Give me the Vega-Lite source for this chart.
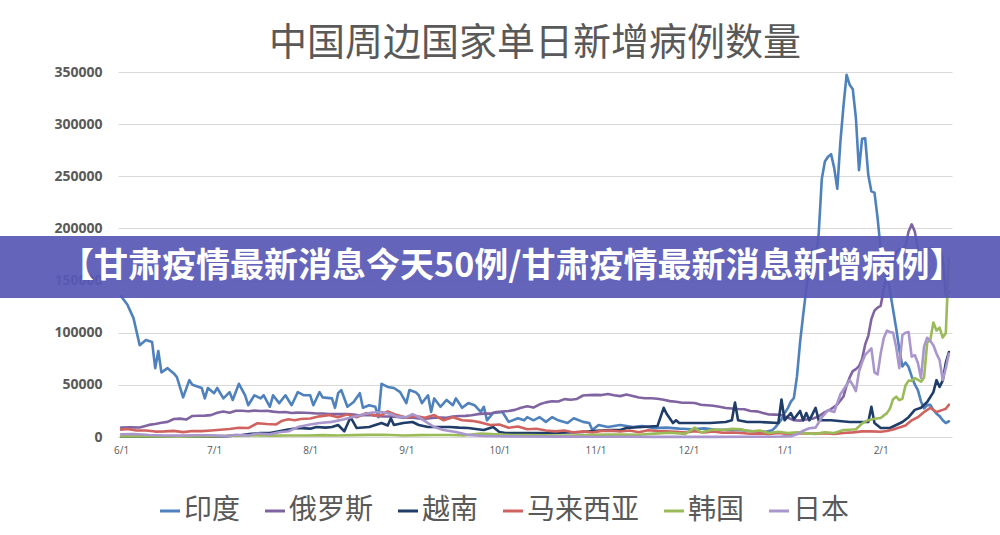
{
  "$schema": "https://vega.github.io/schema/vega-lite/v6.json",
  "width": 834,
  "height": 365,
  "autosize": "none",
  "padding": {"left": 118, "top": 72, "right": 48, "bottom": 98},
  "background": "white",
  "title": {"text": "中国周边国家单日新增病例数量", "fontSize": 38, "font": "Noto Sans CJK SC", "fontWeight": "normal", "color": "#595959", "anchor": "middle", "offset": 2},
  "config": {"view": {"stroke": null}, "font": "Noto Sans CJK SC"},
  "datasets": {
    "banner": [{"x1": "2021-04-10", "x2": "2022-03-25", "y1": 133300, "y2": 192700, "xm": "2021-10-05", "ym": 163000, "t": "【甘肃疫情最新消息今天50例/甘肃疫情最新消息新增病例】"}],
    "cases": [
{"c":"印度","d":"2021-06-01","v":135000},{"c":"印度","d":"2021-06-03","v":127000},{"c":"印度","d":"2021-06-05","v":114000},{"c":"印度","d":"2021-06-07","v":88000},{"c":"印度","d":"2021-06-09","v":93000},{"c":"印度","d":"2021-06-11","v":91000},{"c":"印度","d":"2021-06-12","v":66000},{"c":"印度","d":"2021-06-13","v":82500},{"c":"印度","d":"2021-06-14","v":62000},{"c":"印度","d":"2021-06-16","v":66000},{"c":"印度","d":"2021-06-18","v":61000},{"c":"印度","d":"2021-06-19","v":57500},{"c":"印度","d":"2021-06-21","v":38000},{"c":"印度","d":"2021-06-23","v":54500},{"c":"印度","d":"2021-06-24","v":50000},{"c":"印度","d":"2021-06-27","v":47000},{"c":"印度","d":"2021-06-28","v":37000},{"c":"印度","d":"2021-06-29","v":47000},{"c":"印度","d":"2021-07-01","v":42000},{"c":"印度","d":"2021-07-02","v":47000},{"c":"印度","d":"2021-07-04","v":37000},{"c":"印度","d":"2021-07-06","v":43000},{"c":"印度","d":"2021-07-07","v":35500},{"c":"印度","d":"2021-07-09","v":51000},{"c":"印度","d":"2021-07-11","v":40000},{"c":"印度","d":"2021-07-12","v":30500},{"c":"印度","d":"2021-07-14","v":40000},{"c":"印度","d":"2021-07-16","v":37000},{"c":"印度","d":"2021-07-17","v":40000},{"c":"印度","d":"2021-07-19","v":29000},{"c":"印度","d":"2021-07-20","v":40000},{"c":"印度","d":"2021-07-22","v":32500},{"c":"印度","d":"2021-07-24","v":40000},{"c":"印度","d":"2021-07-26","v":30500},{"c":"印度","d":"2021-07-28","v":43000},{"c":"印度","d":"2021-07-30","v":40000},{"c":"印度","d":"2021-08-01","v":40000},{"c":"印度","d":"2021-08-02","v":30500},{"c":"印度","d":"2021-08-04","v":43000},{"c":"印度","d":"2021-08-05","v":38000},{"c":"印度","d":"2021-08-08","v":37000},{"c":"印度","d":"2021-08-09","v":28000},{"c":"印度","d":"2021-08-10","v":42000},{"c":"印度","d":"2021-08-11","v":45000},{"c":"印度","d":"2021-08-13","v":29000},{"c":"印度","d":"2021-08-15","v":33500},{"c":"印度","d":"2021-08-17","v":42000},{"c":"印度","d":"2021-08-18","v":28000},{"c":"印度","d":"2021-08-20","v":30500},{"c":"印度","d":"2021-08-22","v":29000},{"c":"印度","d":"2021-08-23","v":19000},{"c":"印度","d":"2021-08-24","v":51000},{"c":"印度","d":"2021-08-26","v":48000},{"c":"印度","d":"2021-08-28","v":47000},{"c":"印度","d":"2021-08-30","v":43000},{"c":"印度","d":"2021-09-01","v":32500},{"c":"印度","d":"2021-09-02","v":45000},{"c":"印度","d":"2021-09-04","v":43000},{"c":"印度","d":"2021-09-05","v":40000},{"c":"印度","d":"2021-09-06","v":32500},{"c":"印度","d":"2021-09-08","v":40000},{"c":"印度","d":"2021-09-09","v":24000},{"c":"印度","d":"2021-09-10","v":37000},{"c":"印度","d":"2021-09-12","v":29000},{"c":"印度","d":"2021-09-14","v":35500},{"c":"印度","d":"2021-09-16","v":30500},{"c":"印度","d":"2021-09-17","v":37000},{"c":"印度","d":"2021-09-19","v":28000},{"c":"印度","d":"2021-09-21","v":32500},{"c":"印度","d":"2021-09-23","v":30500},{"c":"印度","d":"2021-09-25","v":24000},{"c":"印度","d":"2021-09-26","v":29000},{"c":"印度","d":"2021-09-27","v":16000},{"c":"印度","d":"2021-09-29","v":23000},{"c":"印度","d":"2021-10-02","v":24000},{"c":"印度","d":"2021-10-04","v":14500},{"c":"印度","d":"2021-10-07","v":18000},{"c":"印度","d":"2021-10-09","v":16000},{"c":"印度","d":"2021-10-10","v":19000},{"c":"印度","d":"2021-10-12","v":16000},{"c":"印度","d":"2021-10-14","v":19000},{"c":"印度","d":"2021-10-16","v":14500},{"c":"印度","d":"2021-10-18","v":19000},{"c":"印度","d":"2021-10-20","v":16000},{"c":"印度","d":"2021-10-23","v":13500},{"c":"印度","d":"2021-10-25","v":18000},{"c":"印度","d":"2021-10-28","v":14500},{"c":"印度","d":"2021-10-30","v":13500},{"c":"印度","d":"2021-10-31","v":6700},{"c":"印度","d":"2021-11-02","v":11500},{"c":"印度","d":"2021-11-05","v":9600},{"c":"印度","d":"2021-11-09","v":11500},{"c":"印度","d":"2021-11-13","v":9600},{"c":"印度","d":"2021-11-16","v":10500},{"c":"印度","d":"2021-11-20","v":8500},{"c":"印度","d":"2021-11-24","v":9000},{"c":"印度","d":"2021-11-28","v":8000},{"c":"印度","d":"2021-12-02","v":7500},{"c":"印度","d":"2021-12-06","v":8300},{"c":"印度","d":"2021-12-10","v":7000},{"c":"印度","d":"2021-12-14","v":6800},{"c":"印度","d":"2021-12-18","v":6500},{"c":"印度","d":"2021-12-22","v":5500},{"c":"印度","d":"2021-12-26","v":5000},{"c":"印度","d":"2021-12-28","v":6500},{"c":"印度","d":"2021-12-29","v":9200},{"c":"印度","d":"2021-12-30","v":13000},{"c":"印度","d":"2021-12-31","v":16800},{"c":"印度","d":"2022-01-01","v":22800},{"c":"印度","d":"2022-01-02","v":27500},{"c":"印度","d":"2022-01-03","v":33700},{"c":"印度","d":"2022-01-04","v":37400},{"c":"印度","d":"2022-01-05","v":58100},{"c":"印度","d":"2022-01-06","v":90900},{"c":"印度","d":"2022-01-07","v":117100},{"c":"印度","d":"2022-01-08","v":142000},{"c":"印度","d":"2022-01-09","v":159600},{"c":"印度","d":"2022-01-10","v":179700},{"c":"印度","d":"2022-01-11","v":168100},{"c":"印度","d":"2022-01-12","v":194700},{"c":"印度","d":"2022-01-13","v":247400},{"c":"印度","d":"2022-01-14","v":264200},{"c":"印度","d":"2022-01-15","v":268800},{"c":"印度","d":"2022-01-16","v":271200},{"c":"印度","d":"2022-01-17","v":258100},{"c":"印度","d":"2022-01-18","v":238000},{"c":"印度","d":"2022-01-19","v":283000},{"c":"印度","d":"2022-01-20","v":317500},{"c":"印度","d":"2022-01-21","v":347300},{"c":"印度","d":"2022-01-22","v":337700},{"c":"印度","d":"2022-01-23","v":333500},{"c":"印度","d":"2022-01-24","v":306100},{"c":"印度","d":"2022-01-25","v":255900},{"c":"印度","d":"2022-01-26","v":285900},{"c":"印度","d":"2022-01-27","v":286400},{"c":"印度","d":"2022-01-28","v":251200},{"c":"印度","d":"2022-01-29","v":235500},{"c":"印度","d":"2022-01-30","v":234300},{"c":"印度","d":"2022-01-31","v":209900},{"c":"印度","d":"2022-02-01","v":180000},{"c":"印度","d":"2022-02-02","v":163000},{"c":"印度","d":"2022-02-03","v":156000},{"c":"印度","d":"2022-02-04","v":140000},{"c":"印度","d":"2022-02-05","v":122000},{"c":"印度","d":"2022-02-06","v":104000},{"c":"印度","d":"2022-02-07","v":84000},{"c":"印度","d":"2022-02-08","v":67600},{"c":"印度","d":"2022-02-09","v":71400},{"c":"印度","d":"2022-02-10","v":67100},{"c":"印度","d":"2022-02-11","v":58100},{"c":"印度","d":"2022-02-12","v":50400},{"c":"印度","d":"2022-02-13","v":44900},{"c":"印度","d":"2022-02-14","v":34100},{"c":"印度","d":"2022-02-15","v":27400},{"c":"印度","d":"2022-02-16","v":30600},{"c":"印度","d":"2022-02-17","v":30800},{"c":"印度","d":"2022-02-18","v":25900},{"c":"印度","d":"2022-02-19","v":22300},{"c":"印度","d":"2022-02-20","v":20000},{"c":"印度","d":"2022-02-21","v":16100},{"c":"印度","d":"2022-02-22","v":13400},{"c":"印度","d":"2022-02-23","v":15100},
{"c":"俄罗斯","d":"2021-06-01","v":9000},{"c":"俄罗斯","d":"2021-06-04","v":9300},{"c":"俄罗斯","d":"2021-06-07","v":9100},{"c":"俄罗斯","d":"2021-06-10","v":11600},{"c":"俄罗斯","d":"2021-06-12","v":12500},{"c":"俄罗斯","d":"2021-06-14","v":13700},{"c":"俄罗斯","d":"2021-06-16","v":14500},{"c":"俄罗斯","d":"2021-06-18","v":17300},{"c":"俄罗斯","d":"2021-06-20","v":17600},{"c":"俄罗斯","d":"2021-06-22","v":16700},{"c":"俄罗斯","d":"2021-06-24","v":20200},{"c":"俄罗斯","d":"2021-06-26","v":20400},{"c":"俄罗斯","d":"2021-06-28","v":20500},{"c":"俄罗斯","d":"2021-06-30","v":21000},{"c":"俄罗斯","d":"2021-07-02","v":23200},{"c":"俄罗斯","d":"2021-07-04","v":24400},{"c":"俄罗斯","d":"2021-07-06","v":23300},{"c":"俄罗斯","d":"2021-07-08","v":25100},{"c":"俄罗斯","d":"2021-07-10","v":25100},{"c":"俄罗斯","d":"2021-07-12","v":24700},{"c":"俄罗斯","d":"2021-07-14","v":25300},{"c":"俄罗斯","d":"2021-07-16","v":25000},{"c":"俄罗斯","d":"2021-07-18","v":25100},{"c":"俄罗斯","d":"2021-07-20","v":24300},{"c":"俄罗斯","d":"2021-07-22","v":23800},{"c":"俄罗斯","d":"2021-07-24","v":24000},{"c":"俄罗斯","d":"2021-07-26","v":23000},{"c":"俄罗斯","d":"2021-07-28","v":23400},{"c":"俄罗斯","d":"2021-07-30","v":23300},{"c":"俄罗斯","d":"2021-08-01","v":23000},{"c":"俄罗斯","d":"2021-08-03","v":22500},{"c":"俄罗斯","d":"2021-08-05","v":22600},{"c":"俄罗斯","d":"2021-08-07","v":22100},{"c":"俄罗斯","d":"2021-08-09","v":21900},{"c":"俄罗斯","d":"2021-08-11","v":21900},{"c":"俄罗斯","d":"2021-08-13","v":21900},{"c":"俄罗斯","d":"2021-08-15","v":21600},{"c":"俄罗斯","d":"2021-08-17","v":20700},{"c":"俄罗斯","d":"2021-08-19","v":21100},{"c":"俄罗斯","d":"2021-08-21","v":21000},{"c":"俄罗斯","d":"2021-08-23","v":19900},{"c":"俄罗斯","d":"2021-08-25","v":19600},{"c":"俄罗斯","d":"2021-08-27","v":19700},{"c":"俄罗斯","d":"2021-08-29","v":19200},{"c":"俄罗斯","d":"2021-08-31","v":18500},{"c":"俄罗斯","d":"2021-09-02","v":18800},{"c":"俄罗斯","d":"2021-09-04","v":18300},{"c":"俄罗斯","d":"2021-09-06","v":17300},{"c":"俄罗斯","d":"2021-09-08","v":17900},{"c":"俄罗斯","d":"2021-09-10","v":18500},{"c":"俄罗斯","d":"2021-09-12","v":18600},{"c":"俄罗斯","d":"2021-09-14","v":18400},{"c":"俄罗斯","d":"2021-09-16","v":19600},{"c":"俄罗斯","d":"2021-09-18","v":20200},{"c":"俄罗斯","d":"2021-09-20","v":20300},{"c":"俄罗斯","d":"2021-09-22","v":20800},{"c":"俄罗斯","d":"2021-09-24","v":21900},{"c":"俄罗斯","d":"2021-09-26","v":22400},{"c":"俄罗斯","d":"2021-09-28","v":22400},{"c":"俄罗斯","d":"2021-09-30","v":23900},{"c":"俄罗斯","d":"2021-10-02","v":24500},{"c":"俄罗斯","d":"2021-10-04","v":25000},{"c":"俄罗斯","d":"2021-10-06","v":26000},{"c":"俄罗斯","d":"2021-10-08","v":28000},{"c":"俄罗斯","d":"2021-10-10","v":29400},{"c":"俄罗斯","d":"2021-10-12","v":28200},{"c":"俄罗斯","d":"2021-10-14","v":31300},{"c":"俄罗斯","d":"2021-10-16","v":33200},{"c":"俄罗斯","d":"2021-10-18","v":34300},{"c":"俄罗斯","d":"2021-10-20","v":34100},{"c":"俄罗斯","d":"2021-10-22","v":36300},{"c":"俄罗斯","d":"2021-10-24","v":35700},{"c":"俄罗斯","d":"2021-10-26","v":36500},{"c":"俄罗斯","d":"2021-10-28","v":39800},{"c":"俄罗斯","d":"2021-10-30","v":40200},{"c":"俄罗斯","d":"2021-11-01","v":40400},{"c":"俄罗斯","d":"2021-11-03","v":40200},{"c":"俄罗斯","d":"2021-11-05","v":41300},{"c":"俄罗斯","d":"2021-11-07","v":40000},{"c":"俄罗斯","d":"2021-11-09","v":39200},{"c":"俄罗斯","d":"2021-11-11","v":40800},{"c":"俄罗斯","d":"2021-11-13","v":39300},{"c":"俄罗斯","d":"2021-11-15","v":37900},{"c":"俄罗斯","d":"2021-11-17","v":37200},{"c":"俄罗斯","d":"2021-11-19","v":37100},{"c":"俄罗斯","d":"2021-11-21","v":36700},{"c":"俄罗斯","d":"2021-11-23","v":35700},{"c":"俄罗斯","d":"2021-11-25","v":34400},{"c":"俄罗斯","d":"2021-11-27","v":33800},{"c":"俄罗斯","d":"2021-11-29","v":32900},{"c":"俄罗斯","d":"2021-12-01","v":32800},{"c":"俄罗斯","d":"2021-12-03","v":32600},{"c":"俄罗斯","d":"2021-12-05","v":31000},{"c":"俄罗斯","d":"2021-12-07","v":30500},{"c":"俄罗斯","d":"2021-12-09","v":30000},{"c":"俄罗斯","d":"2021-12-11","v":29000},{"c":"俄罗斯","d":"2021-12-13","v":27800},{"c":"俄罗斯","d":"2021-12-15","v":27400},{"c":"俄罗斯","d":"2021-12-17","v":26800},{"c":"俄罗斯","d":"2021-12-19","v":26600},{"c":"俄罗斯","d":"2021-12-21","v":25000},{"c":"俄罗斯","d":"2021-12-23","v":24600},{"c":"俄罗斯","d":"2021-12-25","v":23100},{"c":"俄罗斯","d":"2021-12-27","v":21600},{"c":"俄罗斯","d":"2021-12-29","v":21500},{"c":"俄罗斯","d":"2021-12-31","v":21000},{"c":"俄罗斯","d":"2022-01-02","v":18700},{"c":"俄罗斯","d":"2022-01-04","v":16000},{"c":"俄罗斯","d":"2022-01-06","v":15700},{"c":"俄罗斯","d":"2022-01-08","v":16700},{"c":"俄罗斯","d":"2022-01-10","v":17500},{"c":"俄罗斯","d":"2022-01-12","v":19800},{"c":"俄罗斯","d":"2022-01-14","v":23800},{"c":"俄罗斯","d":"2022-01-16","v":26800},{"c":"俄罗斯","d":"2022-01-18","v":31200},{"c":"俄罗斯","d":"2022-01-20","v":38800},{"c":"俄罗斯","d":"2022-01-21","v":49500},{"c":"俄罗斯","d":"2022-01-22","v":57200},{"c":"俄罗斯","d":"2022-01-23","v":63200},{"c":"俄罗斯","d":"2022-01-24","v":65100},{"c":"俄罗斯","d":"2022-01-25","v":67800},{"c":"俄罗斯","d":"2022-01-26","v":74700},{"c":"俄罗斯","d":"2022-01-27","v":88800},{"c":"俄罗斯","d":"2022-01-28","v":97000},{"c":"俄罗斯","d":"2022-01-29","v":113100},{"c":"俄罗斯","d":"2022-01-30","v":121200},{"c":"俄罗斯","d":"2022-01-31","v":124100},{"c":"俄罗斯","d":"2022-02-01","v":125800},{"c":"俄罗斯","d":"2022-02-02","v":141900},{"c":"俄罗斯","d":"2022-02-03","v":155800},{"c":"俄罗斯","d":"2022-02-04","v":168200},{"c":"俄罗斯","d":"2022-02-05","v":166600},{"c":"俄罗斯","d":"2022-02-06","v":177300},{"c":"俄罗斯","d":"2022-02-07","v":180100},{"c":"俄罗斯","d":"2022-02-08","v":180500},{"c":"俄罗斯","d":"2022-02-09","v":183100},{"c":"俄罗斯","d":"2022-02-10","v":197100},{"c":"俄罗斯","d":"2022-02-11","v":203900},{"c":"俄罗斯","d":"2022-02-12","v":197000},{"c":"俄罗斯","d":"2022-02-13","v":180000},{"c":"俄罗斯","d":"2022-02-14","v":167000},{"c":"俄罗斯","d":"2022-02-15","v":176000},{"c":"俄罗斯","d":"2022-02-16","v":180000},{"c":"俄罗斯","d":"2022-02-17","v":181000},{"c":"俄罗斯","d":"2022-02-18","v":180500},{"c":"俄罗斯","d":"2022-02-19","v":179000},{"c":"俄罗斯","d":"2022-02-20","v":180000},{"c":"俄罗斯","d":"2022-02-21","v":172000},{"c":"俄罗斯","d":"2022-02-22","v":136000},{"c":"俄罗斯","d":"2022-02-23","v":139000},
{"c":"越南","d":"2021-06-01","v":200},{"c":"越南","d":"2021-06-10","v":300},{"c":"越南","d":"2021-06-20","v":400},{"c":"越南","d":"2021-06-30","v":500},{"c":"越南","d":"2021-07-05","v":800},{"c":"越南","d":"2021-07-10","v":1900},{"c":"越南","d":"2021-07-13","v":3000},{"c":"越南","d":"2021-07-16","v":3800},{"c":"越南","d":"2021-07-19","v":3800},{"c":"越南","d":"2021-07-22","v":5500},{"c":"越南","d":"2021-07-24","v":6700},{"c":"越南","d":"2021-07-28","v":8600},{"c":"越南","d":"2021-08-01","v":8000},{"c":"越南","d":"2021-08-03","v":9600},{"c":"越南","d":"2021-08-06","v":9000},{"c":"越南","d":"2021-08-08","v":9600},{"c":"越南","d":"2021-08-10","v":11500},{"c":"越南","d":"2021-08-12","v":5500},{"c":"越南","d":"2021-08-14","v":19000},{"c":"越南","d":"2021-08-16","v":8600},{"c":"越南","d":"2021-08-20","v":9600},{"c":"越南","d":"2021-08-24","v":13400},{"c":"越南","d":"2021-08-26","v":11000},{"c":"越南","d":"2021-08-27","v":18000},{"c":"越南","d":"2021-08-28","v":11500},{"c":"越南","d":"2021-08-31","v":13400},{"c":"越南","d":"2021-09-03","v":14400},{"c":"越南","d":"2021-09-05","v":11500},{"c":"越南","d":"2021-09-08","v":9600},{"c":"越南","d":"2021-09-12","v":9600},{"c":"越南","d":"2021-09-15","v":9600},{"c":"越南","d":"2021-09-18","v":9000},{"c":"越南","d":"2021-09-21","v":8600},{"c":"越南","d":"2021-09-24","v":7500},{"c":"越南","d":"2021-09-26","v":6700},{"c":"越南","d":"2021-09-29","v":9600},{"c":"越南","d":"2021-10-01","v":4800},{"c":"越南","d":"2021-10-03","v":3800},{"c":"越南","d":"2021-10-07","v":3800},{"c":"越南","d":"2021-10-12","v":3700},{"c":"越南","d":"2021-10-17","v":3800},{"c":"越南","d":"2021-10-23","v":4400},{"c":"越南","d":"2021-10-28","v":4800},{"c":"越南","d":"2021-10-31","v":5700},{"c":"越南","d":"2021-11-06","v":6700},{"c":"越南","d":"2021-11-09","v":6700},{"c":"越南","d":"2021-11-11","v":8600},{"c":"越南","d":"2021-11-16","v":9600},{"c":"越南","d":"2021-11-21","v":10500},{"c":"越南","d":"2021-11-23","v":28000},{"c":"越南","d":"2021-11-24","v":22000},{"c":"越南","d":"2021-11-26","v":13400},{"c":"越南","d":"2021-11-27","v":16000},{"c":"越南","d":"2021-11-28","v":13400},{"c":"越南","d":"2021-12-02","v":13400},{"c":"越南","d":"2021-12-08","v":13400},{"c":"越南","d":"2021-12-13","v":14400},{"c":"越南","d":"2021-12-15","v":16000},{"c":"越南","d":"2021-12-16","v":33000},{"c":"越南","d":"2021-12-17","v":16000},{"c":"越南","d":"2021-12-20","v":14400},{"c":"越南","d":"2021-12-24","v":14400},{"c":"越南","d":"2021-12-30","v":13400},{"c":"越南","d":"2021-12-31","v":36000},{"c":"越南","d":"2022-01-01","v":16000},{"c":"越南","d":"2022-01-03","v":23000},{"c":"越南","d":"2022-01-04","v":17000},{"c":"越南","d":"2022-01-06","v":25000},{"c":"越南","d":"2022-01-07","v":16000},{"c":"越南","d":"2022-01-08","v":23000},{"c":"越南","d":"2022-01-09","v":16000},{"c":"越南","d":"2022-01-11","v":28000},{"c":"越南","d":"2022-01-12","v":16000},{"c":"越南","d":"2022-01-16","v":16000},{"c":"越南","d":"2022-01-22","v":14400},{"c":"越南","d":"2022-01-28","v":14400},{"c":"越南","d":"2022-01-29","v":29000},{"c":"越南","d":"2022-01-30","v":13400},{"c":"越南","d":"2022-02-01","v":8600},{"c":"越南","d":"2022-02-04","v":8600},{"c":"越南","d":"2022-02-06","v":11500},{"c":"越南","d":"2022-02-08","v":14400},{"c":"越南","d":"2022-02-10","v":19000},{"c":"越南","d":"2022-02-12","v":26000},{"c":"越南","d":"2022-02-14","v":28000},{"c":"越南","d":"2022-02-16","v":33500},{"c":"越南","d":"2022-02-18","v":43000},{"c":"越南","d":"2022-02-19","v":54500},{"c":"越南","d":"2022-02-20","v":48000},{"c":"越南","d":"2022-02-21","v":54000},{"c":"越南","d":"2022-02-22","v":71000},{"c":"越南","d":"2022-02-23","v":81500},
{"c":"马来西亚","d":"2021-06-01","v":7100},{"c":"马来西亚","d":"2021-06-03","v":7700},{"c":"马来西亚","d":"2021-06-06","v":6200},{"c":"马来西亚","d":"2021-06-09","v":6200},{"c":"马来西亚","d":"2021-06-12","v":5200},{"c":"马来西亚","d":"2021-06-15","v":5400},{"c":"马来西亚","d":"2021-06-18","v":5900},{"c":"马来西亚","d":"2021-06-21","v":4700},{"c":"马来西亚","d":"2021-06-24","v":5800},{"c":"马来西亚","d":"2021-06-27","v":5600},{"c":"马来西亚","d":"2021-06-30","v":6300},{"c":"马来西亚","d":"2021-07-03","v":7000},{"c":"马来西亚","d":"2021-07-06","v":7600},{"c":"马来西亚","d":"2021-07-09","v":8900},{"c":"马来西亚","d":"2021-07-12","v":8600},{"c":"马来西亚","d":"2021-07-15","v":13200},{"c":"马来西亚","d":"2021-07-18","v":12500},{"c":"马来西亚","d":"2021-07-21","v":12000},{"c":"马来西亚","d":"2021-07-23","v":15600},{"c":"马来西亚","d":"2021-07-25","v":17000},{"c":"马来西亚","d":"2021-07-27","v":16100},{"c":"马来西亚","d":"2021-07-29","v":17200},{"c":"马来西亚","d":"2021-08-01","v":17800},{"c":"马来西亚","d":"2021-08-04","v":19800},{"c":"马来西亚","d":"2021-08-07","v":21000},{"c":"马来西亚","d":"2021-08-10","v":19000},{"c":"马来西亚","d":"2021-08-13","v":21700},{"c":"马来西亚","d":"2021-08-16","v":19000},{"c":"马来西亚","d":"2021-08-19","v":22900},{"c":"马来西亚","d":"2021-08-22","v":20500},{"c":"马来西亚","d":"2021-08-24","v":21000},{"c":"马来西亚","d":"2021-08-26","v":24500},{"c":"马来西亚","d":"2021-08-29","v":21000},{"c":"马来西亚","d":"2021-09-01","v":18800},{"c":"马来西亚","d":"2021-09-04","v":20000},{"c":"马来西亚","d":"2021-09-07","v":18500},{"c":"马来西亚","d":"2021-09-10","v":21000},{"c":"马来西亚","d":"2021-09-13","v":16000},{"c":"马来西亚","d":"2021-09-16","v":19000},{"c":"马来西亚","d":"2021-09-19","v":16000},{"c":"马来西亚","d":"2021-09-22","v":15500},{"c":"马来西亚","d":"2021-09-25","v":14000},{"c":"马来西亚","d":"2021-09-28","v":11500},{"c":"马来西亚","d":"2021-10-01","v":12000},{"c":"马来西亚","d":"2021-10-04","v":8800},{"c":"马来西亚","d":"2021-10-07","v":10000},{"c":"马来西亚","d":"2021-10-10","v":7400},{"c":"马来西亚","d":"2021-10-13","v":7900},{"c":"马来西亚","d":"2021-10-16","v":6300},{"c":"马来西亚","d":"2021-10-19","v":5400},{"c":"马来西亚","d":"2021-10-22","v":6200},{"c":"马来西亚","d":"2021-10-25","v":4400},{"c":"马来西亚","d":"2021-10-28","v":5400},{"c":"马来西亚","d":"2021-10-31","v":4300},{"c":"马来西亚","d":"2021-11-03","v":5900},{"c":"马来西亚","d":"2021-11-06","v":6100},{"c":"马来西亚","d":"2021-11-09","v":5200},{"c":"马来西亚","d":"2021-11-12","v":6300},{"c":"马来西亚","d":"2021-11-15","v":4600},{"c":"马来西亚","d":"2021-11-18","v":6400},{"c":"马来西亚","d":"2021-11-21","v":5800},{"c":"马来西亚","d":"2021-11-24","v":5400},{"c":"马来西亚","d":"2021-11-27","v":5100},{"c":"马来西亚","d":"2021-11-30","v":4300},{"c":"马来西亚","d":"2021-12-03","v":5500},{"c":"马来西亚","d":"2021-12-06","v":4300},{"c":"马来西亚","d":"2021-12-09","v":5400},{"c":"马来西亚","d":"2021-12-12","v":4100},{"c":"马来西亚","d":"2021-12-15","v":4300},{"c":"马来西亚","d":"2021-12-18","v":3800},{"c":"马来西亚","d":"2021-12-21","v":3100},{"c":"马来西亚","d":"2021-12-24","v":3500},{"c":"马来西亚","d":"2021-12-27","v":2800},{"c":"马来西亚","d":"2021-12-30","v":3900},{"c":"马来西亚","d":"2022-01-02","v":2800},{"c":"马来西亚","d":"2022-01-05","v":3400},{"c":"马来西亚","d":"2022-01-08","v":3300},{"c":"马来西亚","d":"2022-01-11","v":3200},{"c":"马来西亚","d":"2022-01-14","v":3700},{"c":"马来西亚","d":"2022-01-17","v":3000},{"c":"马来西亚","d":"2022-01-20","v":3800},{"c":"马来西亚","d":"2022-01-23","v":4400},{"c":"马来西亚","d":"2022-01-26","v":5400},{"c":"马来西亚","d":"2022-01-29","v":5400},{"c":"马来西亚","d":"2022-02-01","v":5000},{"c":"马来西亚","d":"2022-02-03","v":5700},{"c":"马来西亚","d":"2022-02-05","v":7200},{"c":"马来西亚","d":"2022-02-07","v":9100},{"c":"马来西亚","d":"2022-02-09","v":11000},{"c":"马来西亚","d":"2022-02-11","v":16000},{"c":"马来西亚","d":"2022-02-13","v":19000},{"c":"马来西亚","d":"2022-02-15","v":24000},{"c":"马来西亚","d":"2022-02-17","v":28000},{"c":"马来西亚","d":"2022-02-19","v":24000},{"c":"马来西亚","d":"2022-02-21","v":26000},{"c":"马来西亚","d":"2022-02-22","v":27000},{"c":"马来西亚","d":"2022-02-23","v":31000},
{"c":"韩国","d":"2021-06-01","v":500},{"c":"韩国","d":"2021-06-10","v":600},{"c":"韩国","d":"2021-06-20","v":400},{"c":"韩国","d":"2021-06-30","v":800},{"c":"韩国","d":"2021-07-07","v":1200},{"c":"韩国","d":"2021-07-10","v":1400},{"c":"韩国","d":"2021-07-15","v":1600},{"c":"韩国","d":"2021-07-20","v":1300},{"c":"韩国","d":"2021-07-25","v":1500},{"c":"韩国","d":"2021-07-31","v":1500},{"c":"韩国","d":"2021-08-05","v":1800},{"c":"韩国","d":"2021-08-10","v":1500},{"c":"韩国","d":"2021-08-15","v":1800},{"c":"韩国","d":"2021-08-20","v":2000},{"c":"韩国","d":"2021-08-25","v":2100},{"c":"韩国","d":"2021-08-31","v":1500},{"c":"韩国","d":"2021-09-05","v":1800},{"c":"韩国","d":"2021-09-10","v":1900},{"c":"韩国","d":"2021-09-15","v":1900},{"c":"韩国","d":"2021-09-20","v":1600},{"c":"韩国","d":"2021-09-25","v":3200},{"c":"韩国","d":"2021-09-30","v":2500},{"c":"韩国","d":"2021-10-05","v":1900},{"c":"韩国","d":"2021-10-10","v":1800},{"c":"韩国","d":"2021-10-15","v":1700},{"c":"韩国","d":"2021-10-20","v":1300},{"c":"韩国","d":"2021-10-25","v":1300},{"c":"韩国","d":"2021-10-31","v":2000},{"c":"韩国","d":"2021-11-05","v":2300},{"c":"韩国","d":"2021-11-10","v":2400},{"c":"韩国","d":"2021-11-15","v":2100},{"c":"韩国","d":"2021-11-20","v":3200},{"c":"韩国","d":"2021-11-25","v":4100},{"c":"韩国","d":"2021-11-30","v":3000},{"c":"韩国","d":"2021-12-03","v":9000},{"c":"韩国","d":"2021-12-05","v":4300},{"c":"韩国","d":"2021-12-09","v":7100},{"c":"韩国","d":"2021-12-12","v":6700},{"c":"韩国","d":"2021-12-15","v":7800},{"c":"韩国","d":"2021-12-18","v":7300},{"c":"韩国","d":"2021-12-21","v":5200},{"c":"韩国","d":"2021-12-24","v":6200},{"c":"韩国","d":"2021-12-27","v":3900},{"c":"韩国","d":"2021-12-30","v":5000},{"c":"韩国","d":"2022-01-02","v":3800},{"c":"韩国","d":"2022-01-05","v":4400},{"c":"韩国","d":"2022-01-08","v":3500},{"c":"韩国","d":"2022-01-11","v":3000},{"c":"韩国","d":"2022-01-14","v":4500},{"c":"韩国","d":"2022-01-17","v":3900},{"c":"韩国","d":"2022-01-20","v":6600},{"c":"韩国","d":"2022-01-22","v":7000},{"c":"韩国","d":"2022-01-24","v":7500},{"c":"韩国","d":"2022-01-26","v":13000},{"c":"韩国","d":"2022-01-28","v":16100},{"c":"韩国","d":"2022-01-30","v":17500},{"c":"韩国","d":"2022-02-01","v":18300},{"c":"韩国","d":"2022-02-03","v":22900},{"c":"韩国","d":"2022-02-04","v":27400},{"c":"韩国","d":"2022-02-05","v":36300},{"c":"韩国","d":"2022-02-06","v":38700},{"c":"韩国","d":"2022-02-07","v":35300},{"c":"韩国","d":"2022-02-08","v":36700},{"c":"韩国","d":"2022-02-09","v":49500},{"c":"韩国","d":"2022-02-10","v":54100},{"c":"韩国","d":"2022-02-11","v":53900},{"c":"韩国","d":"2022-02-12","v":56400},{"c":"韩国","d":"2022-02-13","v":54900},{"c":"韩国","d":"2022-02-14","v":53000},{"c":"韩国","d":"2022-02-15","v":57100},{"c":"韩国","d":"2022-02-16","v":90400},{"c":"韩国","d":"2022-02-17","v":93100},{"c":"韩国","d":"2022-02-18","v":109800},{"c":"韩国","d":"2022-02-19","v":102200},{"c":"韩国","d":"2022-02-20","v":104800},{"c":"韩国","d":"2022-02-21","v":95300},{"c":"韩国","d":"2022-02-22","v":99500},{"c":"韩国","d":"2022-02-23","v":171400},
{"c":"日本","d":"2021-06-01","v":2600},{"c":"日本","d":"2021-06-05","v":2900},{"c":"日本","d":"2021-06-10","v":1900},{"c":"日本","d":"2021-06-15","v":1400},{"c":"日本","d":"2021-06-20","v":1300},{"c":"日本","d":"2021-06-25","v":1700},{"c":"日本","d":"2021-06-30","v":1700},{"c":"日本","d":"2021-07-05","v":900},{"c":"日本","d":"2021-07-08","v":2200},{"c":"日本","d":"2021-07-12","v":1500},{"c":"日本","d":"2021-07-15","v":3400},{"c":"日本","d":"2021-07-19","v":2500},{"c":"日本","d":"2021-07-22","v":4500},{"c":"日本","d":"2021-07-25","v":5500},{"c":"日本","d":"2021-07-28","v":9500},{"c":"日本","d":"2021-08-01","v":12000},{"c":"日本","d":"2021-08-04","v":13500},{"c":"日本","d":"2021-08-08","v":14500},{"c":"日本","d":"2021-08-12","v":17000},{"c":"日本","d":"2021-08-15","v":19500},{"c":"日本","d":"2021-08-18","v":21500},{"c":"日本","d":"2021-08-21","v":23500},{"c":"日本","d":"2021-08-24","v":24000},{"c":"日本","d":"2021-08-27","v":22000},{"c":"日本","d":"2021-08-29","v":19500},{"c":"日本","d":"2021-09-01","v":19000},{"c":"日本","d":"2021-09-03","v":22000},{"c":"日本","d":"2021-09-05","v":19000},{"c":"日本","d":"2021-09-08","v":13400},{"c":"日本","d":"2021-09-10","v":9600},{"c":"日本","d":"2021-09-13","v":6700},{"c":"日本","d":"2021-09-17","v":4800},{"c":"日本","d":"2021-09-21","v":2000},{"c":"日本","d":"2021-09-26","v":900},{"c":"日本","d":"2021-10-01","v":700},{"c":"日本","d":"2021-10-10","v":500},{"c":"日本","d":"2021-10-20","v":350},{"c":"日本","d":"2021-10-31","v":250},{"c":"日本","d":"2021-11-10","v":200},{"c":"日本","d":"2021-11-20","v":100},{"c":"日本","d":"2021-11-30","v":150},{"c":"日本","d":"2021-12-10","v":150},{"c":"日本","d":"2021-12-20","v":200},{"c":"日本","d":"2021-12-27","v":250},{"c":"日本","d":"2021-12-31","v":450},{"c":"日本","d":"2022-01-03","v":800},{"c":"日本","d":"2022-01-05","v":2600},{"c":"日本","d":"2022-01-07","v":6000},{"c":"日本","d":"2022-01-09","v":8400},{"c":"日本","d":"2022-01-11","v":9000},{"c":"日本","d":"2022-01-13","v":18700},{"c":"日本","d":"2022-01-15","v":25800},{"c":"日本","d":"2022-01-17","v":24000},{"c":"日本","d":"2022-01-19","v":41000},{"c":"日本","d":"2022-01-21","v":49800},{"c":"日本","d":"2022-01-22","v":54500},{"c":"日本","d":"2022-01-23","v":50000},{"c":"日本","d":"2022-01-24","v":44000},{"c":"日本","d":"2022-01-25","v":62600},{"c":"日本","d":"2022-01-26","v":71600},{"c":"日本","d":"2022-01-27","v":78900},{"c":"日本","d":"2022-01-28","v":81800},{"c":"日本","d":"2022-01-29","v":84900},{"c":"日本","d":"2022-01-30","v":62000},{"c":"日本","d":"2022-01-31","v":60000},{"c":"日本","d":"2022-02-01","v":80000},{"c":"日本","d":"2022-02-02","v":94900},{"c":"日本","d":"2022-02-03","v":102000},{"c":"日本","d":"2022-02-04","v":100700},{"c":"日本","d":"2022-02-05","v":100000},{"c":"日本","d":"2022-02-06","v":86000},{"c":"日本","d":"2022-02-07","v":66000},{"c":"日本","d":"2022-02-08","v":97800},{"c":"日本","d":"2022-02-09","v":100000},{"c":"日本","d":"2022-02-10","v":100600},{"c":"日本","d":"2022-02-11","v":77000},{"c":"日本","d":"2022-02-12","v":78600},{"c":"日本","d":"2022-02-13","v":71000},{"c":"日本","d":"2022-02-14","v":56500},{"c":"日本","d":"2022-02-15","v":86900},{"c":"日本","d":"2022-02-16","v":95200},{"c":"日本","d":"2022-02-17","v":92000},{"c":"日本","d":"2022-02-18","v":88000},{"c":"日本","d":"2022-02-19","v":80000},{"c":"日本","d":"2022-02-20","v":73800},{"c":"日本","d":"2022-02-21","v":54500},{"c":"日本","d":"2022-02-22","v":66000},{"c":"日本","d":"2022-02-23","v":80000}
    ]
  },
  "layer": [
    {
      "data": {"name": "cases"},
      "mark": {"type": "line", "strokeWidth": 2.6, "strokeJoin": "round", "strokeCap": "round"},
      "encoding": {
        "x": {
          "field": "d", "type": "temporal",
          "scale": {"type": "utc", "domain": [{"year": 2021, "month": 5, "date": 31, "utc": true}, {"year": 2022, "month": 2, "date": 24, "utc": true}]},
          "axis": {
            "title": null, "grid": false, "domain": false, "ticks": false,
            "values": [{"year": 2021, "month": 6, "date": 1, "utc": true}, {"year": 2021, "month": 7, "date": 1, "utc": true}, {"year": 2021, "month": 8, "date": 1, "utc": true}, {"year": 2021, "month": 9, "date": 1, "utc": true}, {"year": 2021, "month": 10, "date": 1, "utc": true}, {"year": 2021, "month": 11, "date": 1, "utc": true}, {"year": 2021, "month": 12, "date": 1, "utc": true}, {"year": 2022, "month": 1, "date": 1, "utc": true}, {"year": 2022, "month": 2, "date": 1, "utc": true}],
            "labelExpr": "utcFormat(datum.value, '%-m/%-d')",
            "labelFont": "Open Sans", "labelFontSize": 10, "labelColor": "#595959", "labelPadding": 8
          }
        },
        "y": {
          "field": "v", "type": "quantitative",
          "scale": {"domain": [0, 350000], "nice": false},
          "axis": {
            "title": null, "domain": false, "ticks": false,
            "values": [0, 50000, 100000, 150000, 200000, 250000, 300000, 350000],
            "format": "d", "grid": true, "gridColor": "#d9d9d9", "gridWidth": 1,
            "labelFont": "Open Sans", "labelFontSize": 14, "labelFontWeight": "bold", "labelColor": "#595959", "labelPadding": 16
          }
        },
        "color": {
          "field": "c", "type": "nominal",
          "scale": {"domain": ["印度", "俄罗斯", "越南", "马来西亚", "韩国", "日本"], "range": ["#4f81bd", "#8064a2", "#1f3d68", "#d0635f", "#9bbb59", "#a896cc"]},
          "legend": {
            "title": null, "orient": "none", "legendX": 38, "legendY": 425, "direction": "horizontal",
            "labelFont": "Noto Sans CJK SC", "labelFontSize": 28, "labelColor": "#595959",
            "symbolType": "stroke", "symbolSize": 400, "symbolStrokeWidth": 3, "columnPadding": 18, "labelOffset": 0
          }
        }
      }
    },
    {
      "data": {"name": "banner"},
      "mark": {"type": "rect", "color": "#5858b6", "opacity": 0.93, "clip": false},
      "encoding": {
        "x": {"field": "x1", "type": "temporal"},
        "x2": {"field": "x2"},
        "y": {"field": "y1", "type": "quantitative"},
        "y2": {"field": "y2"}
      }
    },
    {
      "data": {"name": "banner"},
      "mark": {"type": "text", "color": "white", "fontSize": 34, "fontWeight": "bold", "font": "Noto Sans CJK SC", "clip": false},
      "encoding": {
        "x": {"field": "xm", "type": "temporal"},
        "y": {"field": "ym", "type": "quantitative"},
        "text": {"field": "t"}
      }
    }
  ]
}
